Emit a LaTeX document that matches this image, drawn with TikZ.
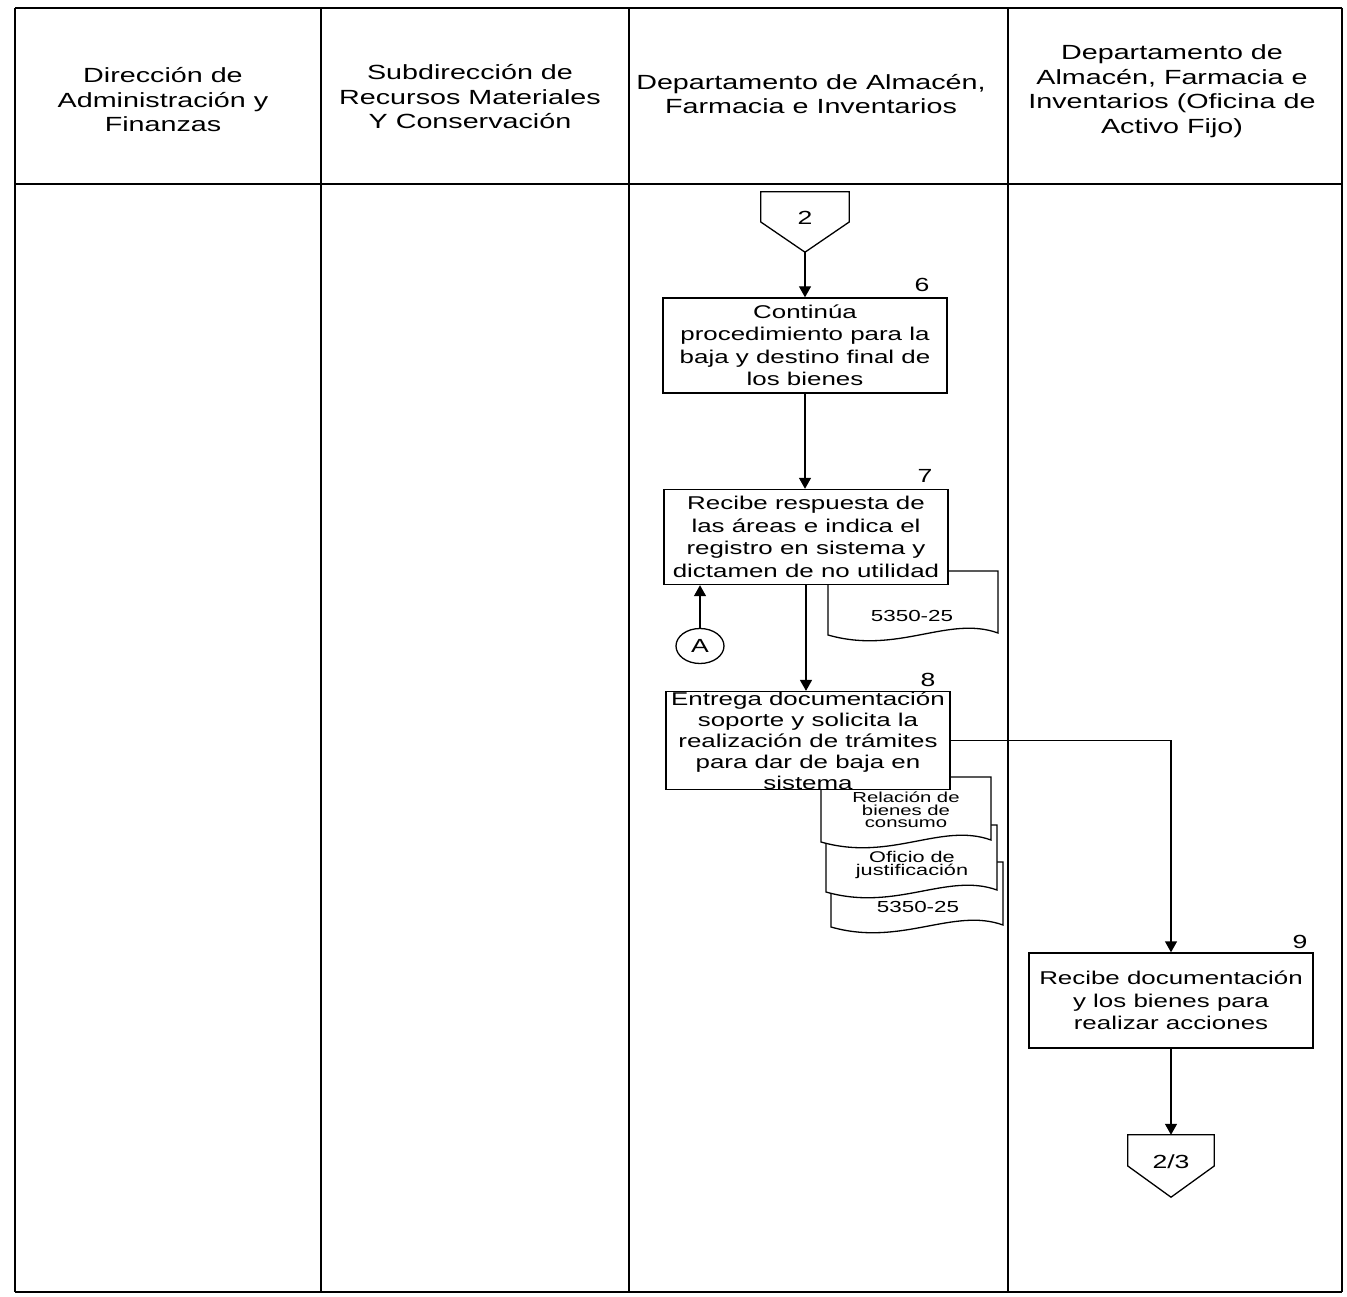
\documentclass[tikz,border=0pt]{standalone}
\usepackage{fontspec}
\setmainfont{Liberation Sans}[FakeStretch=1.4]
\usetikzlibrary{arrows.meta,shapes.geometric}
\newcommand\docpath[4]{\draw[docline] (#1,#2) -- (#3,#2) -- (#3,#4) .. controls (#3-50,#4-18) and (#1+70,#4+22) .. (#1,#4+2) -- cycle;}
\begin{document}
\begin{tikzpicture}[x=1pt,y=-1pt,
  laneline/.style={line width=1.4pt},
  laneedge/.style={line width=2.6pt},
  proc/.style={draw, line width=1.4pt, fill=white, align=center, inner sep=0pt,
    minimum width=284pt, minimum height=95pt, font=\fontsize{18.5}{22.5}\selectfont},
  head/.style={align=center, inner sep=0pt, font=\fontsize{20.5}{24.5}\selectfont},
  num/.style={inner sep=0pt, font=\fontsize{19}{22}\selectfont},
  docline/.style={draw, line width=1.3pt, fill=white},
  doctext/.style={align=center, inner sep=0pt},
  offpage/.style={inner sep=0pt, font=\fontsize{19}{22.5}\selectfont},
  arr/.style={line width=1.4pt, -{Triangle[length=11pt,width=12pt]}}
]
\useasboundingbox (0,0) rectangle (1347,1297);
% frame
\draw[laneedge] (15,8) -- (1342,8);
\draw[laneedge] (15,184) -- (1342,184);
\draw[laneedge] (15,1292) -- (1342,1292);
\draw[laneline] (15,8) -- (15,1292);
\draw[laneline] (321,8) -- (321,1292);
\draw[laneline] (629,8) -- (629,1292);
\draw[laneline] (1008,8) -- (1008,1292);
\draw[laneline] (1342,8) -- (1342,1292);
% headers
\node[head] (h1) at (163,100) {Dirección de\\Administración y\\Finanzas};
\node[head] (h2) at (470,97) {Subdirección de\\Recursos Materiales\\Y Conservación};
\node[head] (h3) at (811,94) {Departamento de Almacén,\\Farmacia e Inventarios};
\node[head] (h4) at (1172,91) {Departamento de\\Almacén, Farmacia e\\Inventarios (Oficina de\\Activo Fijo)};
% connector 2
\node[offpage, minimum width=88pt, minimum height=60pt] (c2) at (805,222) {\raisebox{9pt}{2}};
\draw[line width=1.3pt] (c2.north west) -- (c2.north east) -- (c2.east) -- (c2.south) -- (c2.west) -- cycle;
% box 6
\node[proc] (b6) at (805,345.5) {Continúa\\procedimiento para la\\baja y destino final de\\los bienes};
\node[num] (n6) at (922,285) {6};
% document behind box 7
\docpath{828}{571}{998}{633}
\node[doctext, font=\fontsize{16}{18}\selectfont] (d0) at (912,616) {5350-25};
% box 7
\node[proc] (b7) at (806,537) {Recibe respuesta de\\las áreas e indica el\\registro en sistema y\\dictamen de no utilidad};
\node[num] (n7) at (925,476) {7};
% connector A
\node[ellipse, draw, line width=1.3pt, minimum width=48pt, minimum height=35pt, inner sep=0pt,
  font=\fontsize{19}{22.5}\selectfont] (A) at (700,646) {A};
% documents under box 8
\docpath{831}{862}{1003}{925}
\node[doctext, font=\fontsize{16}{18}\selectfont] (d3) at (918,907) {5350-25};
\docpath{826}{825}{997}{890}
\node[doctext, font=\fontsize{15.5}{13.5}\selectfont] (d2) at (912,865) {Oficio de\\justificación};
\docpath{821}{777}{991}{840}
\node[doctext, font=\fontsize{14.5}{12.5}\selectfont] (d1) at (906,810) {Relación de\\bienes de\\consumo};
% box 8
\node[proc, font=\fontsize{18.5}{21}\selectfont] (b8) at (808,740.5) {Entrega documentación\\soporte y solicita la\\realización de trámites\\para dar de baja en\\sistema};
\node[num] (n8) at (928,680) {8};
% box 9
\node[proc] (b9) at (1171,1000.5) {Recibe documentación\\y los bienes para\\realizar acciones};
\node[num] (n9) at (1300,942) {9};
% connector 2/3
\node[offpage, minimum width=86pt, minimum height=62pt] (c23) at (1171,1166) {\raisebox{8pt}{2/3}};
\draw[line width=1.3pt] (c23.north west) -- (c23.north east) -- (c23.east) -- (c23.south) -- (c23.west) -- cycle;
% arrows
\draw[arr] (c2.south) -- (b6.north);
\draw[arr] (b6.south) -- (b6.south |- b7.north);
\draw[arr] (A.north) -- (A.north |- b7.south);
\draw[arr] (b7.south) -- (b7.south |- b8.north);
\draw[arr] (b8.east) -| (b9.north);
\draw[arr] (b9.south) -- (c23.north);
\end{tikzpicture}
\end{document}
